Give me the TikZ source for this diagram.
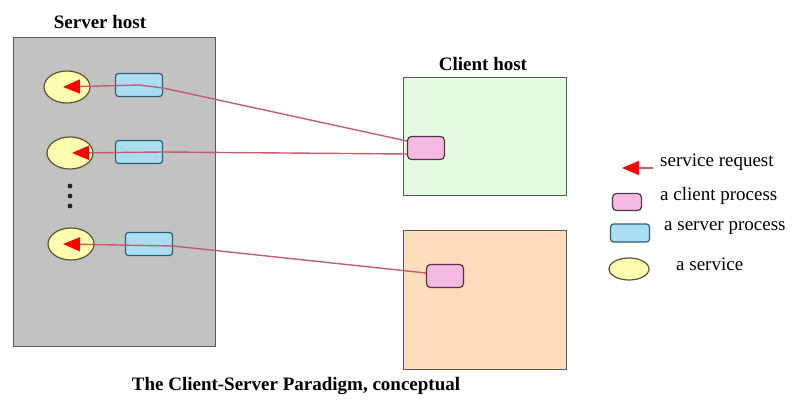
\documentclass[tikz,border=0pt]{standalone}
\usepackage{fontspec}
\setmainfont{Liberation Serif}
\usetikzlibrary{arrows.meta,shapes.geometric}

\definecolor{srvfill}{HTML}{C2C2C2}
\definecolor{grnfill}{HTML}{E2FBE0}
\definecolor{orgfill}{HTML}{FDDDBC}
\definecolor{pinkfill}{HTML}{F6BAE2}
\definecolor{bluefill}{HTML}{A9DDF2}
\definecolor{yelfill}{HTML}{FFFDB0}
\definecolor{reqline}{HTML}{C25E6E}
\definecolor{svcline}{HTML}{5A5632}
\definecolor{spline}{HTML}{2F5E6E}
\definecolor{cpline}{HTML}{4C3444}

\begin{document}
\begin{tikzpicture}[
  x=1pt, y=-1pt,
  every node/.style={font=\fontsize{19}{22}\selectfont},
  title/.style={font=\fontsize{19}{22}\selectfont\bfseries},
  host/.style={draw=black!65, line width=1.3pt, anchor=north west, inner sep=0pt},
  svc/.style={draw=svcline, fill=yelfill, ellipse, line width=1.2pt,
    minimum width=46pt, minimum height=32pt, inner sep=0pt},
  sproc/.style={draw=spline, fill=bluefill, rounded corners=3pt, line width=1.2pt,
    minimum width=47pt, minimum height=23pt, inner sep=0pt},
  cproc/.style={draw=cpline, fill=pinkfill, rounded corners=4pt, line width=1.2pt,
    minimum width=37pt, minimum height=23pt, inner sep=0pt},
  req/.style={draw=reqline, line width=1.4pt,
    -{Triangle[length=17pt, width=14pt, color=red]}},
  lbl/.style={anchor=west, inner sep=0pt}
]
\useasboundingbox (0,0) rectangle (795,403);

\node[host, fill=srvfill, minimum width=202pt, minimum height=309pt] (srv) at (13,37) {};
\node[title] (srvlbl) at (100,22) {Server host};
\node[host, fill=grnfill, minimum width=163pt, minimum height=118pt] (cli1) at (403,77) {};
\node[title] (clilbl) at (483,64) {Client host};
\node[host, fill=orgfill, minimum width=163pt, minimum height=139pt] (cli2) at (403,230) {};

\node[svc] (svc1) at (67,87) {};
\node[svc] (svc2) at (70,153) {};
\node[svc] (svc3) at (71,244) {};
\node[sproc] (sp1) at (139,85) {};
\node[sproc] (sp2) at (139,152) {};
\node[sproc] (sp3) at (149,244) {};
\node[cproc] (cp1) at (426,148) {};
\node[cproc] (cp2) at (445,276) {};

\foreach \y [count=\i] in {186,196,206}
  \fill[black!85] (70,\y) circle (2.4pt) coordinate (dot\i);

\draw[req] ([yshift=7pt]cp1.west) -- ([yshift=-3pt]sp1.east) -- (sp1.center) -- ([xshift=-4pt]svc1.center);
\draw[req] ([yshift=-6pt]cp1.west) -- (sp2.east) -- ([xshift=2pt]svc2.center);
\draw[req] ([yshift=3pt]cp2.west) -- ([yshift=-2pt]sp3.east) -- ([xshift=-8pt]svc3.center);

% legend
\coordinate (lgtail) at (653,168);
\coordinate (lgtip) at (622,168);
\draw[req] (lgtail) -- (lgtip);
\node[lbl] (lgreq) at (660,162) {service request};
\node[cproc, minimum width=29pt, minimum height=17pt] (lgcp) at (627,202) {};
\node[lbl] (lgcptxt) at (660,196) {a client process};
\node[sproc, minimum width=39pt, minimum height=18pt] (lgsp) at (630,233) {};
\node[lbl] (lgsptxt) at (664,228) {a server process};
\node[svc, minimum width=40pt, minimum height=22pt] (lgsvc) at (629,269) {};
\node[lbl] (lgsvctxt) at (676,264) {a service};

\node[title] (caption) at (296,386) {The Client-Server Paradigm, conceptual};
\end{tikzpicture}
\end{document}
